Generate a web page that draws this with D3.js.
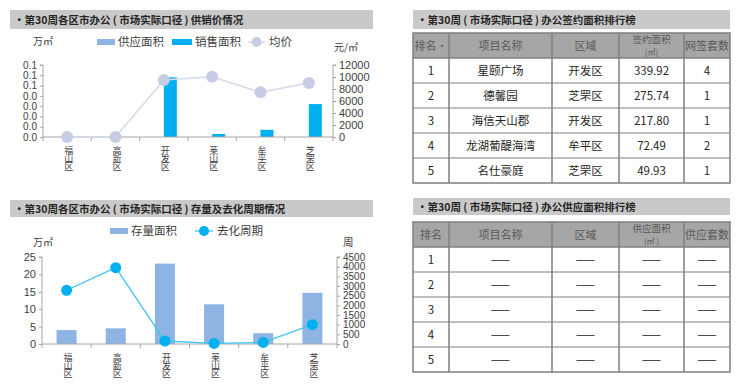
<!DOCTYPE html>
<html lang="zh">
<head>
<meta charset="UTF-8">
<title>第30周各区市办公</title>
<script src="https://cdnjs.cloudflare.com/ajax/libs/d3/7.8.5/d3.min.js"></script>
<style>
    body { margin: 0; background: #fff; font-family: "Noto Sans CJK SC", "Noto Sans", sans-serif; }
    svg text { fill: #404040; }
    .axis path, .axis line { stroke: #a6a6a6; }
    .axis text { font-size: 11px; fill: #404040; font-family: "Liberation Sans", "Noto Sans", sans-serif; }
    .axis.tight text { font-size: 10px; }
    .vcat { writing-mode: vertical-rl; text-orientation: upright; font-size: 9px; letter-spacing: -1px; }
</style>
</head>
<body>
<svg id="page" width="740" height="384"></svg>
<script>
// ---- data ----
const districts = ["福山区", "高新区", "开发区", "莱山区", "牟平区", "芝罘区"];
const supplyArea = [0, 0, 0, 0, 0, 0];
const salesArea = [0, 0, 0.058, 0.003, 0.007, 0.032];
const avgPrice = [0, 0, 9500, 10050, 7450, 9000];
const areaTicks1 = [0, 0.01, 0.02, 0.03, 0.04, 0.05, 0.06, 0.07];
const areaTickLabels1 = ["0.0", "0.0", "0.0", "0.0", "0.0", "0.1", "0.1", "0.1"];
const priceTicks = [0, 2000, 4000, 6000, 8000, 10000, 12000];

const stockArea = [4.0, 4.5, 23.1, 11.4, 3.1, 14.7];
const cycleWeeks = [2780, 3950, 155, 30, 80, 1000];
const stockTicks = [0, 5, 10, 15, 20, 25];
const cycleTicks = [0, 500, 1000, 1500, 2000, 2500, 3000, 3500, 4000, 4500];

const signHeaders = ["排名·", "项目名称", "区域", "签约面积|(㎡)", "网签套数"];
const signRows = [
    ["1", "星颐广场", "开发区", "339.92", "4"],
    ["2", "德馨园", "芝罘区", "275.74", "1"],
    ["3", "海信天山郡", "开发区", "217.80", "1"],
    ["4", "龙湖葡醍海湾", "牟平区", "72.49", "2"],
    ["5", "名仕豪庭", "芝罘区", "49.93", "1"]
];
const supplyHeaders = ["排名", "项目名称", "区域", "供应面积|(㎡ )", "供应套数"];
const supplyRows = [1, 2, 3, 4, 5].map(n => [String(n), "——", "——", "——", "——"]);

const svg = d3.select("#page");

// section title bars
function titleBar(x, y, w, h, label) {
    svg.append("rect").attr("x", x).attr("y", y).attr("width", w).attr("height", h).attr("fill", "#c9c9c9");
    svg.append("text").attr("x", x + 4).attr("y", y + h / 2 + 4)
        .style("font-size", "10.5px").style("font-weight", "bold").style("fill", "#262626")
        .text(label);
}
titleBar(10, 10, 363, 19, "•第30周各区市办公 ( 市场实际口径 ) 供销价情况");
titleBar(10, 200, 363, 17, "•第30周各区市办公 ( 市场实际口径 ) 存量及去化周期情况");
titleBar(413, 10, 317, 19, "•第30周 ( 市场实际口径 ) 办公签约面积排行榜");
titleBar(413, 198, 317, 17, "•第30周 ( 市场实际口径 ) 办公供应面积排行榜");

// vertical stacked category labels
function catLabels(g, x, yTop) {
    g.selectAll(".vcat").data(districts).enter().append("text")
        .attr("class", "vcat")
        .attr("x", d => x(d) + x.bandwidth() / 2 + 1.5)
        .attr("y", yTop)
        .text(d => d);
}

function bandTicks(g, x, y0) {
    const edges = districts.map(d => x(d)).concat([x.range()[1]]);
    g.append("line").attr("x1", x.range()[0]).attr("x2", x.range()[1]).attr("y1", y0).attr("y2", y0).attr("stroke", "#a6a6a6");
    g.selectAll(".bt").data(edges).enter().append("line")
        .attr("x1", d => d).attr("x2", d => d).attr("y1", y0).attr("y2", y0 + 4).attr("stroke", "#a6a6a6");
}

// ---- chart 1: 供销价 ----
{
    const g = svg.append("g");
    const x = d3.scaleBand().domain(districts).range([43, 333]);
    const yL = d3.scaleLinear().domain([0, 0.07]).range([137, 65]);
    const yR = d3.scaleLinear().domain([0, 12000]).range([137, 65]);
    const bw = 13;

    g.append("g").attr("class", "axis tight").attr("transform", "translate(43,0)")
        .call(d3.axisLeft(yL).tickValues(areaTicks1).tickSize(3).tickFormat((d, i) => areaTickLabels1[i]))
        .call(a => a.select(".domain").attr("d", "M-3,65H0V137"));
    g.append("g").attr("class", "axis").attr("transform", "translate(333,0)")
        .call(d3.axisRight(yR).tickValues(priceTicks).tickSize(3).tickFormat(d3.format("d")))
        .call(a => a.select(".domain").attr("d", "M3,65H0V137"));

    g.selectAll(".sup").data(districts).enter().append("rect")
        .attr("x", d => x(d) + x.bandwidth() / 2 - bw)
        .attr("y", (d, i) => yL(supplyArea[i])).attr("width", bw)
        .attr("height", (d, i) => 137 - yL(supplyArea[i])).attr("fill", "#8db4e2");
    g.selectAll(".sal").data(districts).enter().append("rect")
        .attr("x", d => x(d) + x.bandwidth() / 2)
        .attr("y", (d, i) => yL(salesArea[i])).attr("width", bw)
        .attr("height", (d, i) => 137 - yL(salesArea[i])).attr("fill", "#00b0f0");

    bandTicks(g, x, 137);

    const line = d3.line().x((d, i) => x(districts[i]) + x.bandwidth() / 2).y(d => yR(d));
    g.append("path").datum(avgPrice).attr("d", line).attr("fill", "none").attr("stroke", "#d4daeb").attr("stroke-width", 1.5);
    g.selectAll(".pt").data(avgPrice).enter().append("circle")
        .attr("cx", (d, i) => x(districts[i]) + x.bandwidth() / 2).attr("cy", d => yR(d))
        .attr("r", 6).attr("fill", "#c5cce4");

    catLabels(g, x, 146);

    // legend
    g.append("text").attr("x", 33).attr("y", 45).style("font-size", "10px").text("万㎡");
    g.append("text").attr("x", 334).attr("y", 51).style("font-size", "10px").text("元/㎡");
    g.append("rect").attr("x", 97).attr("y", 39).attr("width", 18).attr("height", 6).attr("fill", "#8db4e2");
    g.append("text").attr("x", 118).attr("y", 46).style("font-size", "11.5px").text("供应面积");
    g.append("rect").attr("x", 172).attr("y", 39).attr("width", 20).attr("height", 6).attr("fill", "#00b0f0");
    g.append("text").attr("x", 195).attr("y", 46).style("font-size", "11.5px").text("销售面积");
    g.append("line").attr("x1", 248).attr("x2", 265).attr("y1", 42).attr("y2", 42).attr("stroke", "#d4daeb").attr("stroke-width", 1.5);
    g.append("circle").attr("cx", 256.5).attr("cy", 42).attr("r", 5).attr("fill", "#c5cce4");
    g.append("text").attr("x", 269).attr("y", 46).style("font-size", "11.5px").text("均价");
}

// ---- chart 2: 存量及去化周期 ----
{
    const g = svg.append("g");
    const x = d3.scaleBand().domain(districts).range([42, 337]);
    const yL = d3.scaleLinear().domain([0, 25]).range([344, 257]);
    const yR = d3.scaleLinear().domain([0, 4500]).range([344, 257]);
    const bw = 20;

    g.append("g").attr("class", "axis").attr("transform", "translate(42,0)")
        .call(d3.axisLeft(yL).tickValues(stockTicks).tickSize(3))
        .call(a => a.select(".domain").attr("d", "M-3,257H0V344"));
    g.append("g").attr("class", "axis tight").attr("transform", "translate(337,0)")
        .call(d3.axisRight(yR).tickValues(cycleTicks).tickSize(3).tickFormat(d3.format("d")))
        .call(a => a.select(".domain").attr("d", "M3,257H0V344"));

    g.selectAll(".stk").data(districts).enter().append("rect")
        .attr("x", d => x(d) + x.bandwidth() / 2 - bw / 2)
        .attr("y", (d, i) => yL(stockArea[i])).attr("width", bw)
        .attr("height", (d, i) => 344 - yL(stockArea[i])).attr("fill", "#8db4e2");

    bandTicks(g, x, 344);

    const line = d3.line().x((d, i) => x(districts[i]) + x.bandwidth() / 2).y(d => yR(d));
    g.append("path").datum(cycleWeeks).attr("d", line).attr("fill", "none").attr("stroke", "#3cc6f4").attr("stroke-width", 1.3);
    g.selectAll(".pt").data(cycleWeeks).enter().append("circle")
        .attr("cx", (d, i) => x(districts[i]) + x.bandwidth() / 2).attr("cy", d => yR(d))
        .attr("r", 5.5).attr("fill", "#00b0f0");

    catLabels(g, x, 353);

    g.append("text").attr("x", 33).attr("y", 246).style("font-size", "10px").text("万㎡");
    g.append("text").attr("x", 343).attr("y", 246).style("font-size", "10.5px").text("周");
    g.append("rect").attr("x", 110).attr("y", 228).attr("width", 18).attr("height", 6).attr("fill", "#8db4e2");
    g.append("text").attr("x", 131).attr("y", 235).style("font-size", "11.5px").text("存量面积");
    g.append("line").attr("x1", 195).attr("x2", 213).attr("y1", 231).attr("y2", 231).attr("stroke", "#3cc6f4").attr("stroke-width", 1.3);
    g.append("circle").attr("cx", 204).attr("cy", 231).attr("r", 5).attr("fill", "#00b0f0");
    g.append("text").attr("x", 217).attr("y", 235).style("font-size", "11.5px").text("去化周期");
}

// ---- ranking tables ----
function table(top, headers, rows) {
    const cols = [413, 449, 552, 619, 684, 730];
    const headH = 25, rowH = 25;
    const g = svg.append("g");
    const bottom = top + headH + rowH * rows.length;
    g.append("rect").attr("x", cols[0]).attr("y", top).attr("width", cols[5] - cols[0]).attr("height", headH).attr("fill", "#a6a6a6");
    headers.forEach((h, i) => {
        const cx = (cols[i] + cols[i + 1]) / 2;
        const parts = h.split("|");
        if (parts.length === 1) {
            g.append("text").attr("x", cx).attr("y", top + headH / 2 + 4).attr("text-anchor", "middle")
                .style("font-size", "11px").style("fill", "#595959").text(parts[0]);
        } else {
            g.append("text").attr("x", cx).attr("y", top + 10).attr("text-anchor", "middle")
                .style("font-size", "9.5px").style("fill", "#595959").text(parts[0]);
            g.append("text").attr("x", cx).attr("y", top + 22).attr("text-anchor", "middle")
                .style("font-size", "8px").style("fill", "#595959").text(parts[1]);
        }
    });
    rows.forEach((r, ri) => {
        const y = top + headH + ri * rowH;
        r.forEach((v, i) => {
            g.append("text").attr("x", (cols[i] + cols[i + 1]) / 2).attr("y", y + rowH / 2 + 4.5)
                .attr("text-anchor", "middle").style("font-size", "11.5px").style("fill", "#262626").text(v);
        });
        if (ri > 0) g.append("line").attr("x1", cols[0]).attr("x2", cols[5]).attr("y1", y).attr("y2", y).attr("stroke", "#7f7f7f");
    });
    g.append("line").attr("x1", cols[0]).attr("x2", cols[5]).attr("y1", top + headH).attr("y2", top + headH).attr("stroke", "#7f7f7f").attr("stroke-width", 1.5);
    cols.slice(1, 5).forEach(c => {
        g.append("line").attr("x1", c).attr("x2", c).attr("y1", top).attr("y2", bottom).attr("stroke", "#7f7f7f").attr("stroke-width", 1.5);
    });
    g.append("rect").attr("x", cols[0]).attr("y", top).attr("width", cols[5] - cols[0]).attr("height", bottom - top)
        .attr("fill", "none").attr("stroke", "#7f7f7f").attr("stroke-width", 1.5);
}
table(33, signHeaders, signRows);
table(222, supplyHeaders, supplyRows);
</script>
</body>
</html>
